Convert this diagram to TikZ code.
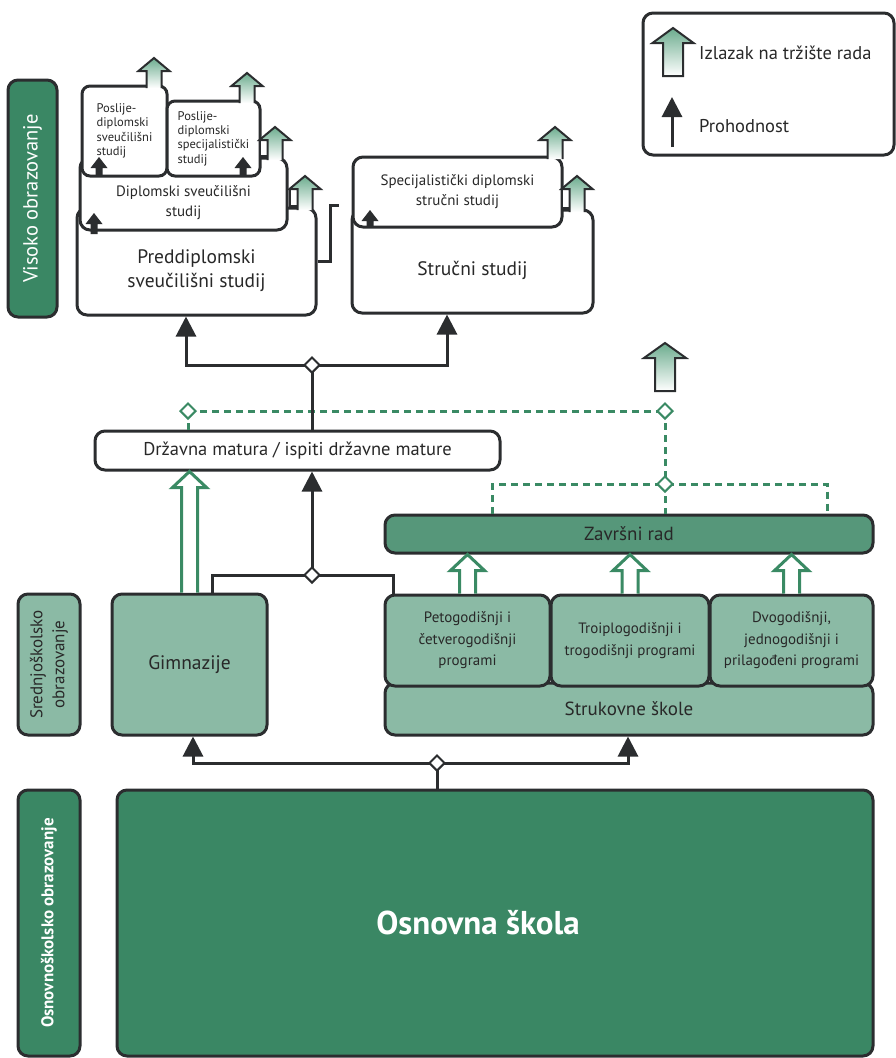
\documentclass[tikz,border=0pt]{standalone}
\usepackage{fontspec}
\setmainfont{PT Sans}
\usetikzlibrary{arrows.meta,shapes.geometric,calc}

\definecolor{dkgreen}{RGB}{58,135,100}
\definecolor{ltgreen}{RGB}{139,186,165}
\definecolor{mdgreen}{RGB}{86,151,122}
\definecolor{lngreen}{RGB}{58,138,100}
\definecolor{exitgrn}{RGB}{108,172,142}
\definecolor{outl}{RGB}{43,45,47}
\definecolor{txtgray}{RGB}{40,40,40}

\tikzset{
  box/.style={draw=outl, line width=3pt, rounded corners=10pt, fill=white,
    text=txtgray, align=center, inner sep=0pt},
  lbl/.style={text=txtgray, align=center, inner sep=0pt},
  level/.style={draw=outl, line width=3pt, rounded corners=10pt, align=center, inner sep=0pt},
  conn/.style={draw=outl, line width=3pt},
  prohod/.style={-{Triangle[width=20pt,length=20pt]}},
  junction/.style={diamond, draw=outl, fill=white, line width=2pt,
    minimum size=16pt, inner sep=0pt},
  gjunction/.style={junction, draw=lngreen},
  greendash/.style={draw=lngreen, line width=3pt, dash pattern=on 7pt off 5pt},
  hollow/.style={draw=lngreen, line width=3pt, fill=white, line join=miter},
  exit/.style={draw=outl, line width=2pt, top color=exitgrn, bottom color=white},
  bigtext/.style={font=\fontsize{19.5}{24}\selectfont},
  dmtext/.style={font=\fontsize{18.5}{20}\selectfont},
  medtext/.style={font=\fontsize{15}{20}\selectfont},
  progtext/.style={font=\fontsize{15}{21.5}\selectfont},
  smalltext/.style={font=\fontsize{12.5}{14.3}\selectfont},
  bartext/.style={font=\fontsize{19}{20}\selectfont},
  legtext/.style={font=\fontsize{18.5}{20}\selectfont},
}

\begin{document}
\begin{tikzpicture}[x=1pt,y=-1pt]
\useasboundingbox (0,0) rectangle (895,1058);

% levels
\node[level, rotate=90, minimum width=237pt, minimum height=49pt, fill=dkgreen,
  text=white, font=\fontsize{20.5}{22}\selectfont] (visoko) at (32.5,198.5) {Visoko obrazovanje};
\node[level, rotate=90, minimum width=141pt, minimum height=62pt, fill=ltgreen,
  text=txtgray, font=\fontsize{17}{22}\selectfont] (srednje) at (49,664.5) {Srednjoškolsko\\obrazovanje};
\node[level, rotate=90, minimum width=266pt, minimum height=62pt, fill=dkgreen,
  text=white, font=\fontsize{17}{18}\selectfont\bfseries] (osnovno) at (49,923) {Osnovnoškolsko obrazovanje};

% visoko obrazovanje
\node[box, minimum width=239pt, minimum height=107pt,
  label={[lbl, bigtext, yshift=-9pt]center:Preddiplomski\\sveučilišni studij}] (pred) at (196.5,261.5) {};
\node[box, minimum width=207pt, minimum height=72pt,
  label={[lbl, medtext, yshift=-9pt]center:Diplomski sveučilišni\\studij}] (dipl) at (183.5,194) {};
\node[box, rounded corners=8pt, minimum width=85pt, minimum height=90pt, smalltext, align=left] (psv) at (124.5,131) {Poslije-\\diplomski\\sveučilišni\\studij};
\node[box, rounded corners=8pt, minimum width=93pt, minimum height=75pt, smalltext, align=left] (psp) at (213.5,138.5) {Poslije-\\diplomski\\specijalistički\\studij};
\node[box, minimum width=241pt, minimum height=103pt,
  label={[lbl, bigtext, yshift=-9pt]center:Stručni studij}] (stru) at (472.5,261.5) {};
\node[box, minimum width=209pt, minimum height=70pt, medtext] (spec) at (457.5,192) {Specijalistički diplomski\\stručni studij};

% srednje obrazovanje
\node[box, minimum width=405pt, minimum height=39pt, dmtext] (dm) at (297.5,450.5) {Državna matura / ispiti državne mature};
\node[box, fill=mdgreen, minimum width=488pt, minimum height=38pt, bartext] (zav) at (629,534) {Završni rad};
\node[box, fill=ltgreen, minimum width=488pt, minimum height=52pt, bartext] (struk) at (629,709) {Strukovne škole};
\node[box, fill=ltgreen, minimum width=165pt, minimum height=91pt, progtext] (p1) at (467.5,640.5) {Petogodišnji i\\četverogodišnji\\programi};
\node[box, fill=ltgreen, minimum width=158pt, minimum height=91pt, progtext] (p2) at (630,640.5) {Troiplogodišnji i\\trogodišnji programi};
\node[box, fill=ltgreen, minimum width=163pt, minimum height=91pt, progtext] (p3) at (791.5,640.5) {Dvogodišnji,\\jednogodišnji i\\prilagođeni programi};
\node[box, fill=ltgreen, minimum width=155pt, minimum height=141pt, bigtext] (gim) at (189.5,664.5) {Gimnazije};

% osnovno obrazovanje
\node[box, fill=dkgreen, minimum width=756pt, minimum height=266pt,
  label={[text=white, font=\fontsize{33}{38}\selectfont\bfseries, xshift=-17pt]center:Osnovna škola}] (osn) at (495,923) {};

% legend
\node[box, minimum width=251pt, minimum height=142pt] (leg) at (768.5,84) {};
\node[lbl, legtext, anchor=west] (legexit) at (699,53) {Izlazak na tržište rada};
\node[lbl, legtext, anchor=west] (legpass) at (699,126) {Prohodnost};
\draw[exit] (663,76) -- (663,43) -- (652.5,43) -- (673,28) -- (693.5,43) -- (683,43) -- (683,76) -- cycle;
\draw[conn, prohod] (672,147) -- (672,97);

% izlazak na trziste rada
\foreach \x/\t/\b in {275/127/159, 305/176/209, 577/176/211}
  \draw[outl, line width=2pt, fill=white] ({\x-15.5},{\t+13}) rectangle ({\x-7.5},{\b-3});
\foreach \x/\t/\b in {154/58/88, 247/73/103, 275/127/160, 305/176/210, 555/127/159, 577/176/212}
  \draw[exit] ({\x-7.5},\b) -- ({\x-7.5},{\t+13}) -- ({\x-15.5},{\t+13}) -- (\x,\t)
    -- ({\x+15.5},{\t+13}) -- ({\x+7.5},{\t+13}) -- ({\x+7.5},\b);
\draw[exit] (655,391) -- (655,358) -- (644,358) -- (665,343) -- (686,358) -- (675,358) -- (675,391) -- cycle;

% prohodnost unutar studija
\foreach \x/\t/\b in {99/157/176, 243/157/176, 94/213/234, 370/210/227}
  \fill[outl] ({\x-3.5},\b) -- ({\x-3.5},{\t+11}) -- ({\x-8.5},{\t+11}) -- (\x,\t)
    -- ({\x+8.5},{\t+11}) -- ({\x+3.5},{\t+11}) -- ({\x+3.5},\b) -- cycle;

% zavrsni rad i matura (open arrows)
\foreach \a/\b in {gim/dm, p1/zav, p2/zav, p3/zav}
  \draw[hollow] ($(\a.north)+(-8,0)$) -- ($(\a.north |- \b.south)+(-8,16)$)
    -- ($(\a.north |- \b.south)+(-17,16)$) -- (\a.north |- \b.south)
    -- ($(\a.north |- \b.south)+(17,16)$) -- ($(\a.north |- \b.south)+(8,16)$)
    -- ($(\a.north)+(8,0)$);

% dashed links
\coordinate (gA) at (188,411);
\coordinate (gB) at (665,411);
\coordinate (gC) at (665,484);
\draw[greendash] (gA) -- (gA |- dm.north);
\draw[greendash] (gA) -- (gB);
\draw[greendash] (gB) -- (gC);
\draw[greendash] (gC) -- (gC |- zav.north);
\draw[greendash] ([xshift=109pt]zav.north west) |- (gC) -| ([xshift=-47pt]zav.north east);

% prohodnost
\coordinate (jT) at (312,365);
\coordinate (jM) at (312,575);
\coordinate (jB) at (437,763);
\coordinate (brk) at (339,205);
\draw[conn] (dm.north -| jT) -- (jT);
\draw[conn, prohod] (jT) -| ([xshift=-10.5pt]pred.south);
\draw[conn, prohod] (jT) -| ([xshift=-25.5pt]stru.south);
\draw[conn, prohod] (jM) -- (jM |- dm.south);
\draw[conn] ([xshift=22.5pt]gim.north) |- (jM) -| ([xshift=10pt]p1.north west);
\draw[conn] (osn.north -| jB) -- (jB);
\draw[conn, prohod] (jB) -| ([xshift=3.5pt]gim.south);
\draw[conn, prohod] (jB) -| ([xshift=-1pt]struk.south);
\draw[conn] (pred.east) -| ([xshift=-9pt]brk) -- (brk);

\node[junction] (jTd) at (jT) {};
\node[junction] (jMd) at (jM) {};
\node[junction] (jBd) at (jB) {};
\node[gjunction] (gAd) at (gA) {};
\node[gjunction] (gBd) at (gB) {};
\node[gjunction] (gCd) at (gC) {};
\end{tikzpicture}
\end{document}
